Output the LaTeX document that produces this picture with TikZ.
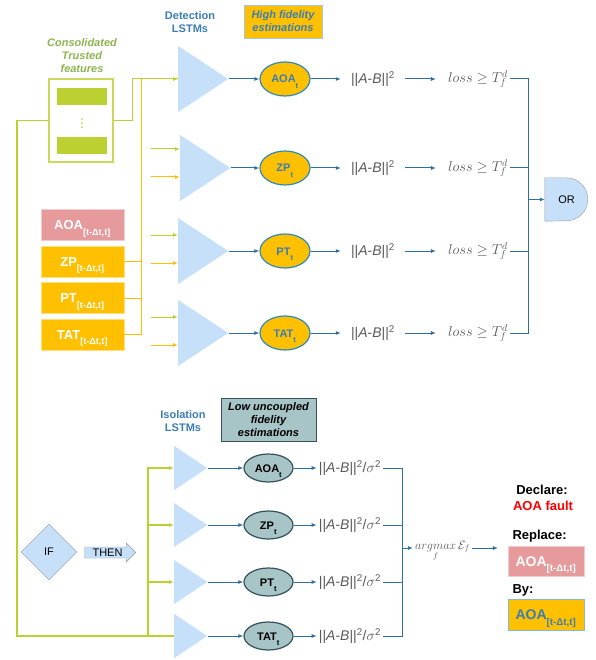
\documentclass[tikz,border=0pt]{standalone}
\usepackage{fontspec}
\setmainfont{Liberation Sans}
\usetikzlibrary{shapes.geometric, shapes.arrows, arrows.meta, calc}
\definecolor{lstmblue}{HTML}{C6E0FA}
\definecolor{flowblue}{HTML}{2F6F9F}
\definecolor{headblue}{HTML}{3A7DB5}
\definecolor{rimblue}{HTML}{2E8AB8}
\definecolor{amber}{HTML}{FFC000}
\definecolor{faultpink}{HTML}{E69A9C}
\definecolor{trustgreen}{HTML}{BDD031}
\definecolor{leafgreen}{HTML}{8DB452}
\definecolor{isoteal}{HTML}{A7C4C6}
\definecolor{isorim}{HTML}{34525C}
\definecolor{mathgray}{HTML}{5A5A5A}
\definecolor{gaterim}{HTML}{9A9A9A}
\newcommand{\lowsub}[1]{\raisebox{-3.5pt}{\textsubscript{#1}}}
\tikzset{%
	small/.style = { font=\fontsize{11}{13}\selectfont },
	big/.style = { font=\fontsize{13}{15}\selectfont\bfseries },
	head/.style = { align=center, text=headblue, font=\fontsize{11}{13}\selectfont\bfseries },
	trusthead/.style = { align=center, text=leafgreen, font=\fontsize{11}{13}\selectfont\bfseries\itshape },
	hibox/.style = { align=center, fill=amber, draw=headblue!45, text=headblue, minimum width=78pt, minimum height=33pt, inner sep=1pt, font=\fontsize{11}{13}\selectfont\bfseries\itshape },
	lobox/.style = { hibox, fill=isoteal, draw=isorim, text=black, minimum width=95pt, minimum height=43pt },
	trustbox/.style = { draw=trustgreen!80, line width=1.5pt, fill=white, minimum width=64pt, minimum height=83pt },
	trustbar/.style = { fill=trustgreen, minimum width=50pt, minimum height=17pt, inner sep=0pt },
	feat/.style = { big, fill=amber, draw=amber!50, text=white, minimum width=83pt, minimum height=31pt, inner sep=1pt, text height=9pt, text depth=0pt },
	featbad/.style = { feat, fill=faultpink, draw=faultpink!50 },
	dlstm/.style = { isosceles triangle, isosceles triangle stretches, minimum width=66pt, minimum height=50pt, inner sep=0pt, fill=lstmblue, anchor=lower side },
	ilstm/.style = { dlstm, minimum width=44pt, minimum height=33pt },
	hiest/.style = { ellipse, draw=rimblue, line width=1.2pt, fill=amber, minimum width=50pt, minimum height=34pt, inner sep=0pt, text height=8pt, text depth=0pt, text=headblue, font=\fontsize{11}{13}\selectfont\bfseries },
	loest/.style = { hiest, draw=isorim, fill=isoteal, text=black, minimum width=49pt, minimum height=28pt },
	mathtxt/.style = { text=mathgray, font=\fontsize{14}{16}\selectfont, inner sep=2pt },
	decl/.style = { big, text=black },
	ifbox/.style = { diamond, aspect=1, draw=gaterim, fill=lstmblue, minimum width=56pt, minimum height=56pt, inner sep=0pt, small },
	thenbox/.style = { single arrow, draw=gaterim, fill=lstmblue, minimum height=51pt, minimum width=19pt, single arrow head extend=4pt, inner sep=1.5pt, small },
	orbox/.style = { minimum width=43pt, minimum height=43pt, inner sep=0pt, font=\fontsize{11}{13}\selectfont },
	gline/.style = { draw=trustgreen, line width=1.5pt },
	garrow/.style = { gline, line width=1pt, -{Latex[length=5pt, width=4pt]} },
	oline/.style = { draw=amber, line width=1pt },
	oarrow/.style = { oline, -{Latex[length=5pt, width=4pt]} },
	bline/.style = { draw=flowblue, line width=1pt },
	barrow/.style = { bline, -{Latex[length=5pt, width=4pt]} }
}
\begin{document}
\begin{tikzpicture}[x=1pt, y=-1pt]
\useasboundingbox (0,0) rectangle (595,660);
% headers
\node[head] (dethead) at (190,22) {Detection\\LSTMs};
\node[hibox] (hifid) at (283,21.5) {High fidelity\\estimations};
\node[trusthead] (trustlbl) at (82,56) {Consolidated\\Trusted\\features};
\node[head] (isohead) at (183,421) {Isolation\\LSTMs};
\node[lobox] (lofid) at (268.5,419.5) {Low uncoupled\\fidelity\\estimations};
% trusted features
\node[trustbox] (trust) at (81,120.5) {};
\node[trustbar] (tbar1) at (82,96.5) {};
\node[trustbar] (tbar2) at (82,145.5) {};
\node[text=trustgreen, font=\bfseries] (tdots) at (82,121) {$\vdots$};
% raw features
\node[featbad] (fAOA) at (82.5,225) {AOA\lowsub{[t-Δt,t]}};
\node[feat] (fZP) at (82.5,261.5) {ZP\lowsub{[t-Δt,t]}};
\node[feat] (fPT) at (82.5,298) {PT\lowsub{[t-Δt,t]}};
\node[feat] (fTAT) at (82.5,334.5) {TAT\lowsub{[t-Δt,t]}};
% detection LSTMs
\node[dlstm] (det1) at (178,79) {};
\node[dlstm] (det2) at (180,168) {};
\node[dlstm] (det3) at (178,251) {};
\node[dlstm] (det4) at (178,333) {};
\coordinate (obus) at (141,79);
\draw[oline] (fZP.east) -- (fZP.east -| obus);
\draw[oline] (fPT.east) -- (fPT.east -| obus);
\draw[oline] (fTAT.east) -| (obus) -- (det1.lower side);
\draw[garrow] (trust.east) -- ++(19,0) |- (det1.lower side);
\draw[garrow] ($(det2.lower side)+(-29,-19)$) -- ($(det2.lower side)+(0,-19)$);
\draw[oarrow] ($(det2.lower side)+(-29,9)$) -- ($(det2.lower side)+(0,9)$);
\draw[garrow] ($(det3.lower side)+(-27,-16)$) -- ($(det3.lower side)+(0,-16)$);
\draw[oarrow] ($(det3.lower side)+(-27,12)$) -- ($(det3.lower side)+(0,12)$);
\draw[garrow] ($(det4.lower side)+(-27,-16)$) -- ($(det4.lower side)+(0,-16)$);
\draw[oarrow] ($(det4.lower side)+(-27,12)$) -- ($(det4.lower side)+(0,12)$);
% high fidelity outputs
\node[hiest] (dAOA) at (285,79) {AOA\lowsub{t}};
\node[hiest] (dZP) at (285,168) {ZP\lowsub{t}};
\node[hiest] (dPT) at (285,251) {PT\lowsub{t}};
\node[hiest] (dTAT) at (285,333) {TAT\lowsub{t}};
\node[mathtxt, inner xsep=10pt] (dn1) at (373,79) {||\textit{A}-\textit{B}||\textsuperscript{2}};
\node[mathtxt, inner xsep=10pt] (dn2) at (373,168) {||\textit{A}-\textit{B}||\textsuperscript{2}};
\node[mathtxt, inner xsep=10pt] (dn3) at (373,251) {||\textit{A}-\textit{B}||\textsuperscript{2}};
\node[mathtxt, inner xsep=10pt] (dn4) at (373,333) {||\textit{A}-\textit{B}||\textsuperscript{2}};
\node[mathtxt] (dl1) at (478,79) {$loss \geq T_f^d$};
\node[mathtxt] (dl2) at (478,168) {$loss \geq T_f^d$};
\node[mathtxt] (dl3) at (478,251) {$loss \geq T_f^d$};
\node[mathtxt] (dl4) at (478,333) {$loss \geq T_f^d$};
\draw[barrow] (det1.apex) -- (dAOA);
\draw[barrow] (det2.apex) -- (dZP);
\draw[barrow] (det3.apex) -- (dPT);
\draw[barrow] (det4.apex) -- (dTAT);
\draw[barrow] (dAOA) -- (dn1);
\draw[barrow] (dZP) -- (dn2);
\draw[barrow] (dPT) -- (dn3);
\draw[barrow] (dTAT) -- (dn4);
\draw[barrow, shorten >=10pt] (dn1) -- (dl1);
\draw[barrow, shorten >=10pt] (dn2) -- (dl2);
\draw[barrow, shorten >=10pt] (dn3) -- (dl3);
\draw[barrow, shorten >=10pt] (dn4) -- (dl4);
% OR gate
\node[orbox] (orgate) at (566.5,199.5) {};
\draw[draw=gaterim, fill=lstmblue] (orgate.north west) -- ($(orgate.north west)+(21.5,0)$) arc[start angle=90, end angle=-90, radius=21.5pt] -- (orgate.south west) -- cycle;
\node[orbox] (ortxt) at (orgate.center) {OR};
\coordinate (orin) at (528,199.5);
\draw[bline] (dl1.east) -| (orin);
\draw[bline] (dl2.east) -| (orin);
\draw[bline] (dl3.east) -| (orin);
\draw[bline] (dl4.east) -| (orin);
\draw[barrow] (orin) -- (orgate.west);
% isolation LSTMs
\node[ilstm] (iso1) at (174,468) {};
\node[ilstm] (iso2) at (174,525) {};
\node[ilstm] (iso3) at (174,582) {};
\node[ilstm] (iso4) at (174,636) {};
\coordinate (gcorner) at (17,636);
\coordinate (isobus) at (148,636);
\draw[gline] (trust.west) -| (gcorner) -- (iso4.lower side);
\draw[garrow, line width=1.5pt] (isobus) |- (iso1.lower side);
\draw[garrow, line width=1.5pt] (isobus) |- (iso2.lower side);
\draw[garrow, line width=1.5pt] (isobus) |- (iso3.lower side);
% low uncoupled outputs
\node[loest] (iAOA) at (268.5,468) {AOA\lowsub{t}};
\node[loest] (iZP) at (268.5,525) {ZP\lowsub{t}};
\node[loest] (iPT) at (268.5,582) {PT\lowsub{t}};
\node[loest] (iTAT) at (268.5,636) {TAT\lowsub{t}};
\node[mathtxt] (in1) at (350,468) {||\textit{A}-\textit{B}||\textsuperscript{2}/$\sigma$\textsuperscript{2}};
\node[mathtxt] (in2) at (350,525) {||\textit{A}-\textit{B}||\textsuperscript{2}/$\sigma$\textsuperscript{2}};
\node[mathtxt] (in3) at (350,582) {||\textit{A}-\textit{B}||\textsuperscript{2}/$\sigma$\textsuperscript{2}};
\node[mathtxt] (in4) at (350,636) {||\textit{A}-\textit{B}||\textsuperscript{2}/$\sigma$\textsuperscript{2}};
\draw[barrow] (iso1.apex) -- (iAOA);
\draw[barrow] (iso2.apex) -- (iZP);
\draw[barrow] (iso3.apex) -- (iPT);
\draw[barrow] (iso4.apex) -- (iTAT);
\draw[barrow] (iAOA) -- (in1);
\draw[barrow] (iZP) -- (in2);
\draw[barrow] (iPT) -- (in3);
\draw[barrow] (iTAT) -- (in4);
% argmax and decision
\coordinate (amin) at (402,548);
\draw[bline] (in1.east) -| (amin);
\draw[bline] (in2.east) -| (amin);
\draw[bline] (in3.east) -| (amin);
\draw[bline] (in4.east) -| (amin);
\node[mathtxt, font=\fontsize{12}{14}\selectfont, anchor=base west] (amx) at (413,549) {$\mathop{argmax}\limits_{f}\mathcal{E}_f$};
\node[decl] (declare) at (542,490) {Declare:};
\node[decl, text=red] (fault) at (543,506) {AOA fault};
\node[decl, anchor=west] (repltxt) at (509,536) {Replace:};
\node[featbad, minimum width=76pt, minimum height=30pt, text height=10pt, font=\fontsize{14}{16}\selectfont\bfseries] (repl) at (546,561) {AOA\lowsub{[t-Δt,t]}};
\node[decl, anchor=west] (bytxt) at (509,590) {By:};
\node[feat, draw=rimblue!60, text=headblue, minimum width=76pt, minimum height=31pt, text height=10pt, font=\fontsize{14}{16}\selectfont\bfseries] (bybox) at (546,614.5) {AOA\lowsub{[t-Δt,t]}};
\draw[barrow] (amin) -- (amin -| amx.west);
\draw[barrow, line width=0.6pt, shorten >=10pt] (amin -| amx.east) -- (amin -| repl.west);
% if then
\node[ifbox] (ifnode) at (49,552) {IF};
\node[thenbox] (thennode) at (107.5,552.5) {THEN};
\end{tikzpicture}
\end{document}
